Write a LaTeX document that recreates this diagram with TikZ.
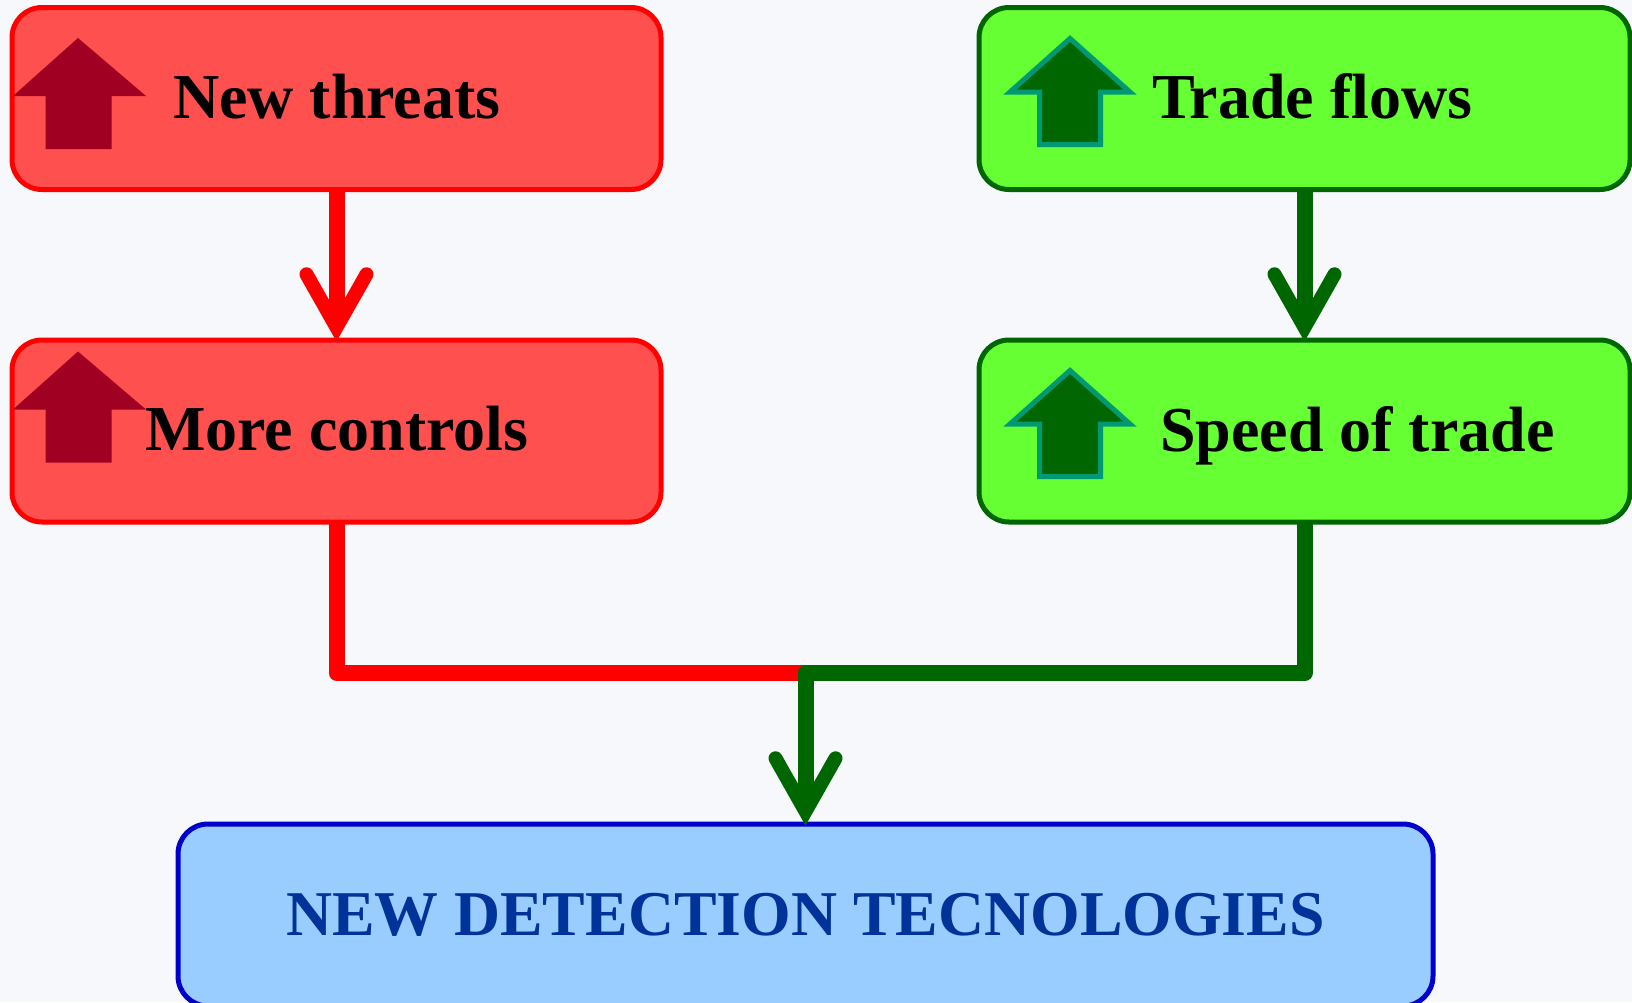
\documentclass[tikz,border=0pt]{standalone}
\usepackage{fontspec}
\setmainfont{Liberation Serif}
\usetikzlibrary{arrows.meta}
\definecolor{bgc}{HTML}{F7F8FC}
\definecolor{redfill}{HTML}{FF5050}
\definecolor{redline}{HTML}{FF0000}
\definecolor{redmark}{HTML}{A00022}
\definecolor{greenfill}{HTML}{66FF33}
\definecolor{greenline}{HTML}{006600}
\definecolor{greenedge}{HTML}{009973}
\definecolor{bluefill}{HTML}{99CCFF}
\definecolor{blueline}{HTML}{0000CC}
\definecolor{bluetext}{HTML}{003399}
\tikzset{
  x=0.5pt,y=-0.5pt,
  panel/.style={draw,line width=2.5pt,rounded corners=15pt,minimum width=324.5pt,minimum height=91pt,outer sep=0pt,inner sep=0pt},
  redpanel/.style={panel,draw=redline,fill=redfill},
  greenpanel/.style={panel,draw=greenline,fill=greenfill,minimum width=325.5pt},
  bluepanel/.style={panel,draw=blueline,fill=bluefill,minimum width=627.5pt},
  caption/.style={anchor=base west,inner sep=0pt,outer sep=0pt,font=\fontsize{32}{36}\selectfont\bfseries},
  barb/.style={-{Straight Barb[length=26.5pt,width=30pt,line width=7pt,line cap=round,line join=miter]}},
  link/.style={line width=8pt,line join=round},
  redmarkstyle/.style={fill=redmark},
  greenmarkstyle/.style={fill=greenline,draw=greenedge,line width=2.5pt,miter limit=10}
}
\newcommand{\redup}[1]{\path[redmarkstyle,shift={(0,#1)}] (78,38)--(146,96)--(111.5,96)--(111.5,149)--(45.5,149)--(45.5,96)--(13,96)--cycle;}
\newcommand{\greenup}[1]{\path[greenmarkstyle,shift={(0,#1)}] (1070,38.5)--(1130,92)--(1100.5,92)--(1100.5,144.5)--(1039.5,144.5)--(1039.5,92)--(1010,92)--cycle;}
\begin{document}
\begin{tikzpicture}
\useasboundingbox (0,0) rectangle (1632,1002);
\fill[bgc] (0,0) rectangle (1632,1002);
\clip (0,0) rectangle (1632,1002);
\node[redpanel] (threats) at (336.5,98.5) {};
\node[redpanel] (controls) at (336.5,431) {};
\node[greenpanel] (flows) at (1304.5,98.5) {};
\node[greenpanel] (speed) at (1304.5,431) {};
\node[bluepanel] (detect) at (805.5,915) {};
\coordinate (join) at (805.5,673);
\draw[link,redline] (controls.south) |- (join);
\draw[link,greenline,barb] (speed.south) |- (join) -- ([yshift=-0.75pt]detect.north);
\draw[link,redline,barb] (threats.south) -- ([yshift=-0.75pt]controls.north);
\draw[link,greenline,barb] (flows.south) -- ([yshift=-0.75pt]speed.north);
\redup{0}
\redup{313.5}
\greenup{0}
\greenup{332}
\node[caption] (t1) at (173,118) {New threats};
\node[caption] (t2) at (145,450.5) {More controls};
\node[caption] (t3) at (1152,118) {Trade flows};
\node[caption] (t4) at (1160,451) {Speed of trade};
\node[caption,text=bluetext,font=\fontsize{31.9}{36}\selectfont\bfseries] (t5) at (286,935) {NEW DETECTION TECNOLOGIES};
\end{tikzpicture}
\end{document}
